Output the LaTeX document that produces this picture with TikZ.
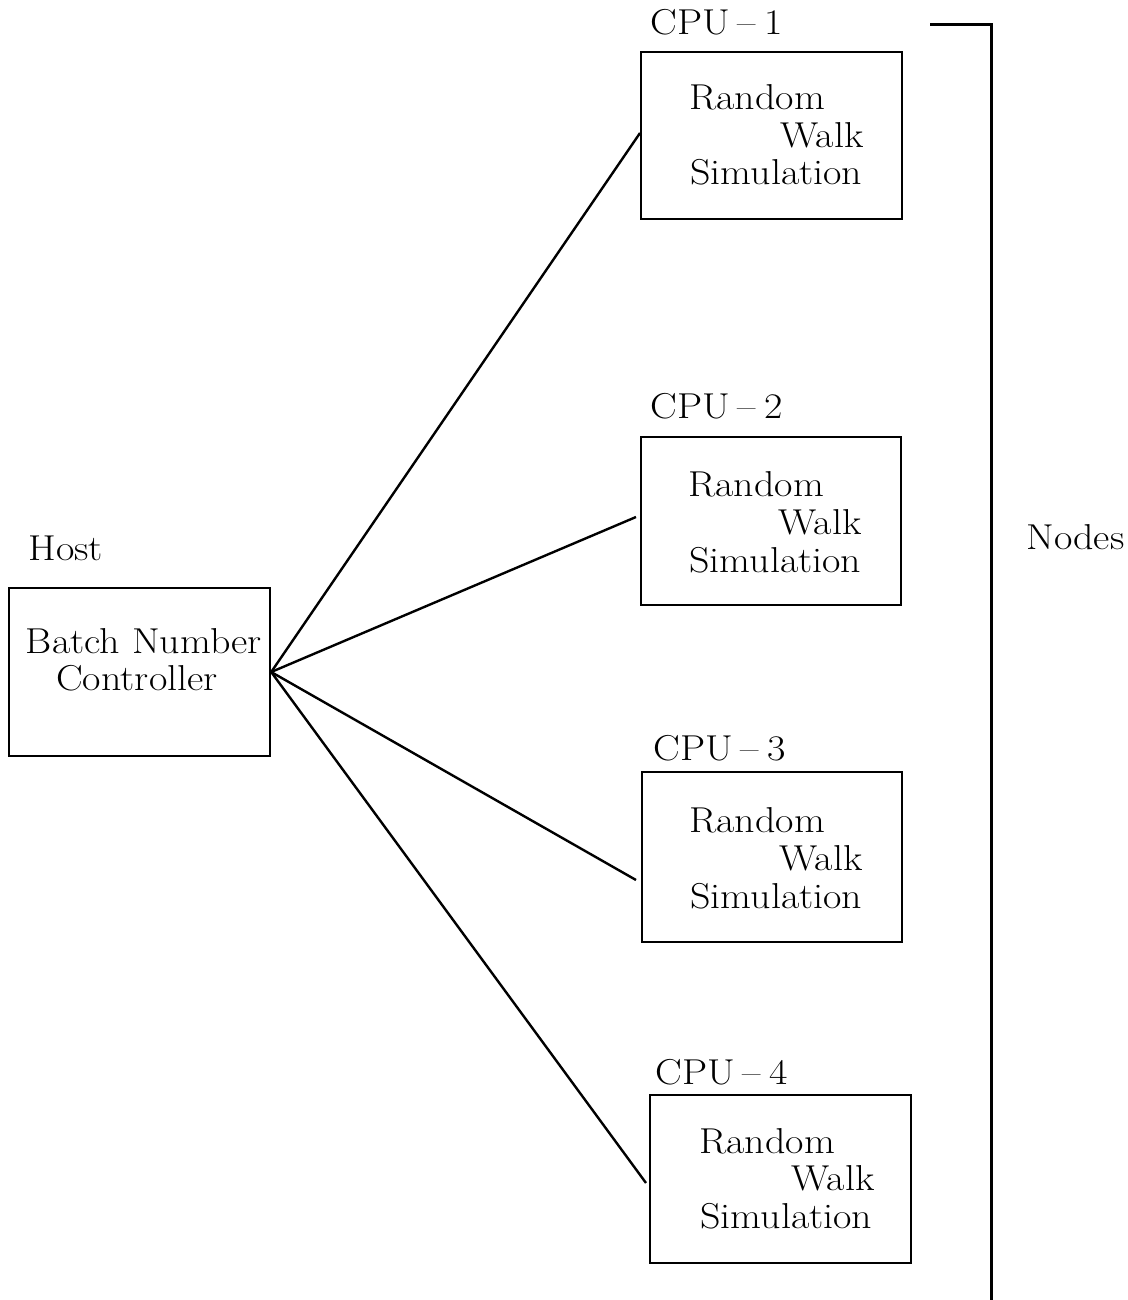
\documentclass[tikz,border=0pt]{standalone}
\usepackage{fontspec}
\setmainfont{Latin Modern Roman}[FakeStretch=1.11]
\newcommand{\cpulabel}[1]{CPU\kern4pt--\kern4pt#1}
\begin{document}
\begin{tikzpicture}[x=0.5pt,y=-0.5pt,
  every node/.style={font=\fontsize{18}{19}\selectfont},
  box/.style={draw,line width=1.2pt,rectangle,inner sep=0pt},
  txt/.style={inner sep=0pt},
  link/.style={line width=1.2pt}]
\useasboundingbox (0,0) rectangle (1128,1300);
% host
\node[box,minimum width=130.5pt,minimum height=84pt] (host) at (139.5,672) {};
\node[txt,anchor=base west] (hostlbl) at (28,560) {Host};
\node[txt,anchor=base] (hostt1) at (144,653) {Batch Number};
\node[txt,anchor=base] (hostt2) at (137,690) {Controller};
% CPU 1
\node[box,minimum width=130.5pt,minimum height=83.5pt] (cpu1) at (771.5,135.5) {};
\node[txt,anchor=base west] (lbl1) at (650,35) {\cpulabel{1}};
\node[txt,anchor=base west] (r1) at (689,110) {Random};
\node[txt,anchor=base east] (w1) at (864,148) {Walk};
\node[txt,anchor=base west] (s1) at (690,185) {Simulation};
% CPU 2
\node[box,minimum width=130pt,minimum height=84pt] (cpu2) at (771,521) {};
\node[txt,anchor=base west] (lbl2) at (650,418) {\cpulabel{2}};
\node[txt,anchor=base west] (r2) at (688,496) {Random};
\node[txt,anchor=base east] (w2) at (862,534) {Walk};
\node[txt,anchor=base west] (s2) at (689,572) {Simulation};
% CPU 3
\node[box,minimum width=130pt,minimum height=85pt] (cpu3) at (772,857) {};
\node[txt,anchor=base west] (lbl3) at (653,760) {\cpulabel{3}};
\node[txt,anchor=base west] (r3) at (689,832) {Random};
\node[txt,anchor=base east] (w3) at (863,870) {Walk};
\node[txt,anchor=base west] (s3) at (690,908) {Simulation};
% CPU 4
\node[box,minimum width=130.5pt,minimum height=84pt] (cpu4) at (780.5,1179) {};
\node[txt,anchor=base west] (lbl4) at (655,1084) {\cpulabel{4}};
\node[txt,anchor=base west] (r4) at (699,1153) {Random};
\node[txt,anchor=base east] (w4) at (875,1190) {Walk};
\node[txt,anchor=base west] (s4) at (700,1228) {Simulation};
% connectors
\coordinate (e1) at (640,133);
\coordinate (e2) at (636,517);
\coordinate (e3) at (636,880);
\coordinate (e4) at (646,1183);
\draw[link] (host.east) -- (e1);
\draw[link] (host.east) -- (e2);
\draw[link] (host.east) -- (e3);
\draw[link] (host.east) -- (e4);
% bracket
\coordinate (bt) at (930,25);
\coordinate (bc) at (991,25);
\coordinate (bb) at (991,1300);
\draw[line width=1.5pt] (bt) -- (bc) -- (bb);
\node[txt,anchor=base west] (nodes) at (1026,549) {Nodes};
\end{tikzpicture}
\end{document}
